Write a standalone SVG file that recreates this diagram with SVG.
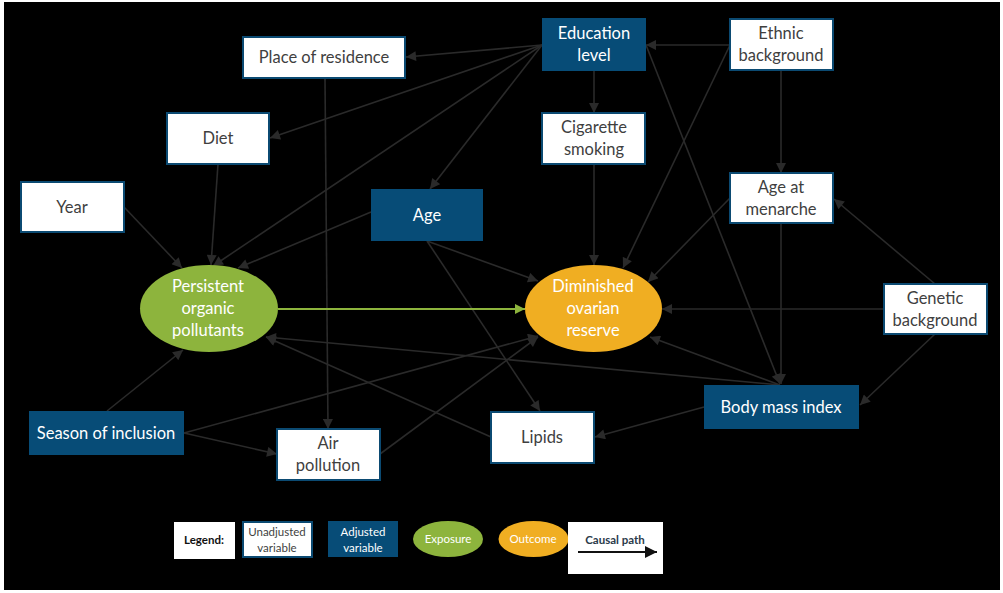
<svg xmlns="http://www.w3.org/2000/svg" width="1003" height="593" viewBox="0 0 1003 593">
<style>
.bg{fill:#000}
.u{fill:#fff;stroke:#0b4a72;stroke-width:2}
.a{fill:#074c77}
.exp{fill:#8db43d}
.out{fill:#f0ae22}
text{font-family:Lato,"Open Sans","Liberation Sans",sans-serif;font-size:16.5px;text-anchor:middle}
.tu{fill:#3f3f3f}
.tw{fill:#fff}
.e{stroke:#2a2a2a;stroke-width:1.6;fill:none;marker-end:url(#ah)}
.g{stroke:#8db43d;stroke-width:1.8;fill:none;marker-end:url(#ahg)}
.lg{font-size:11.5px}
</style>
<defs>
<marker id="ah" viewBox="0 0 10 10" refX="10" refY="5" markerWidth="11" markerHeight="10" markerUnits="userSpaceOnUse" orient="auto">
<path d="M0,0 L10,5 L0,10 z" fill="#2a2a2a"/>
</marker>
<marker id="ahg" viewBox="0 0 10 10" refX="10" refY="5" markerWidth="11" markerHeight="10" markerUnits="userSpaceOnUse" orient="auto">
<path d="M0,0 L10,5 L0,10 z" fill="#8db43d"/>
</marker>
<marker id="ahk" viewBox="0 0 10 10" refX="10" refY="5" markerWidth="12" markerHeight="12" markerUnits="userSpaceOnUse" orient="auto">
<path d="M0,0 L10,5 L0,10 z" fill="#111"/>
</marker>
</defs>
<rect x="0" y="0" width="1003" height="593" fill="#fff"/>
<rect class="bg" x="4" y="2" width="996" height="588"/>

<g id="connectors">
<path class="e" d="M542,45 L406,57"/>
<path class="e" d="M542,45 L270,138"/>
<path class="e" d="M542,45 L213,266"/>
<path class="e" d="M542,45 L430,189"/>
<path class="e" d="M594,71 L594,113"/>
<path class="e" d="M730,45 L646,45"/>
<path class="e" d="M781,70 L781,173"/>
<path class="e" d="M730,45 L623,268"/>
<path class="e" d="M646,45 L780,384"/>
<path class="e" d="M730,198 L648,282"/>
<path class="e" d="M781,223 L781,384"/>
<path class="e" d="M935,284 L834,199"/>
<path class="e" d="M884,309 L662,309"/>
<path class="e" d="M935,334 L860,405"/>
<path class="e" d="M780,385 L650,337"/>
<path class="e" d="M780,385 L266,337"/>
<path class="e" d="M704,407 L595,437"/>
<path class="e" d="M491,437 L266,337"/>
<path class="e" d="M107,411 L183,350"/>
<path class="e" d="M184,433 L277,454"/>
<path class="e" d="M184,433 L538,336"/>
<path class="e" d="M380,454 L538,337"/>
<path class="e" d="M325,79 L328,429"/>
<path class="e" d="M218,164 L211,265"/>
<path class="e" d="M124,207 L182,268"/>
<path class="e" d="M371,212 L238,268"/>
<path class="e" d="M427,241 L538,281"/>
<path class="e" d="M427,241 L540,411"/>
<path class="e" d="M594,164 L594,265"/>
<path class="g" d="M278,309 L525,309"/>
</g>

<g id="place"><rect class="u" x="243" y="37" width="162" height="41"/><text class="tu" x="324" y="63">Place of residence</text></g>
<g id="diet"><rect class="u" x="167" y="113" width="102" height="51"/><text class="tu" x="218" y="144">Diet</text></g>
<g id="year"><rect class="u" x="21" y="182" width="103" height="50"/><text class="tu" x="72" y="213">Year</text></g>
<g id="age"><rect class="a" x="371" y="189" width="112" height="52"/><text class="tw" x="427" y="221">Age</text></g>
<g id="education"><rect class="a" x="542" y="18" width="104" height="53"/><text class="tw" x="594" y="39">Education</text><text class="tw" x="594" y="61">level</text></g>
<g id="ethnic"><rect class="u" x="730" y="19" width="103" height="51"/><text class="tu" x="781" y="39">Ethnic</text><text class="tu" x="781" y="61">background</text></g>
<g id="cigarette"><rect class="u" x="542" y="113" width="103" height="51"/><text class="tu" x="594" y="133">Cigarette</text><text class="tu" x="594" y="155">smoking</text></g>
<g id="menarche"><rect class="u" x="730" y="173" width="103" height="50"/><text class="tu" x="781" y="193">Age at</text><text class="tu" x="781" y="215">menarche</text></g>
<g id="genetic"><rect class="u" x="884" y="284" width="103" height="50"/><text class="tu" x="935" y="304">Genetic</text><text class="tu" x="935" y="326">background</text></g>
<g id="bmi"><rect class="a" x="704" y="385" width="155" height="44"/><text class="tw" x="781" y="413">Body mass index</text></g>
<g id="lipids"><rect class="u" x="491" y="412" width="103" height="51"/><text class="tu" x="542" y="443">Lipids</text></g>
<g id="season"><rect class="a" x="29" y="411" width="155" height="44"/><text class="tw" x="106" y="439">Season of inclusion</text></g>
<g id="air"><rect class="u" x="277" y="429" width="103" height="51"/><text class="tu" x="328" y="449">Air</text><text class="tu" x="328" y="471">pollution</text></g>
<g id="pop"><ellipse class="exp" cx="209" cy="308.5" rx="69" ry="43.5"/><text class="tw" x="208" y="292">Persistent</text><text class="tw" x="208" y="314">organic</text><text class="tw" x="208" y="336">pollutants</text></g>
<g id="dor"><ellipse class="out" cx="593.5" cy="308.5" rx="68.5" ry="43.5"/><text class="tw" x="593" y="292">Diminished</text><text class="tw" x="593" y="314">ovarian</text><text class="tw" x="593" y="336">reserve</text></g>

<g id="legend">
<rect x="174" y="522" width="61" height="37" fill="#fff"/>
<text class="lg" x="204" y="544" fill="#111" font-weight="bold">Legend:</text>
<rect class="u" x="243" y="522" width="69" height="35"/>
<text class="lg tu" x="277" y="536">Unadjusted</text><text class="lg tu" x="277" y="552">variable</text>
<rect class="a" x="328" y="521" width="70" height="36"/>
<text class="lg tw" x="363" y="536">Adjusted</text><text class="lg tw" x="363" y="552">variable</text>
<ellipse class="exp" cx="448" cy="539" rx="35" ry="18"/>
<text class="lg tw" x="448" y="543">Exposure</text>
<ellipse class="out" cx="533.5" cy="539" rx="35" ry="18"/>
<text class="lg tw" x="533" y="543">Outcome</text>
<rect x="568" y="522" width="95" height="52" fill="#fff"/>
<text class="lg" x="615" y="544" fill="#2b3a4a" font-weight="bold">Causal path</text>
<path d="M578,552 L657,552" stroke="#111" stroke-width="2" marker-end="url(#ahk)"/>
</g>
</svg>
